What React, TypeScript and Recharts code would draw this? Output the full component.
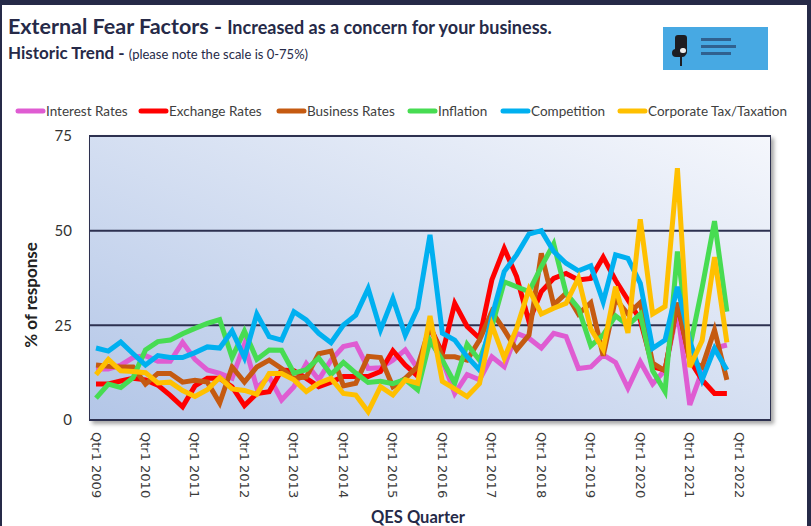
import React from 'react';
import { LineChart, Line, XAxis, YAxis, CartesianGrid } from 'recharts';

// ---- categories (quarters) ----
const years = [2009, 2010, 2011, 2012, 2013, 2014, 2015, 2016, 2017, 2018, 2019, 2020, 2021, 2022];
const quarterNames = ['Qtr1', 'Qtr2', 'Qtr3', 'Qtr4'];
const quarters: string[] = [];
years.forEach((y) => quarterNames.forEach((q) => quarters.push(`${q} ${y}`)));
const categories = quarters.slice(0, 55);

// ---- series values (% of response), Qtr1 2009 .. Qtr4 2021 ----
const interestRates = [13.5, 13.5, 14.5, 16.5, 17, 15.5, 15.5, 20.5, 16, 13.2, 12.3, 11, 20, 8.5,
  11.4, 5.3, 8.8, 14.9, 10.6, 15.8, 19.4, 20.1, 13.6, 13.8, 15.8, 18.5, 13.6,
  21, 15.8, 7, 12, 10.6, 16.7, 14.1, 22.9, 21.6, 19, 22.9, 22, 13.6, 14, 17.2, 15.2, 8.4, 15.4, 9.5, 13.2, 29, 4, 13, 19, 19.8];
const exchangeRates = [9.5, 9.5, 10.3, 11, 10.6, 9.2, 6.5, 3.5, 9, 11, 11, 8.8, 3.8,
  7, 7.5, 13.2, 13, 11, 8.8, 10, 11.5, 11.5, 11.5, 12.8, 18.3, 14.5, 11.6,
  24.7, 17.6, 30.8, 24.7, 21.6, 37, 45.3, 37.9, 26, 33.9, 37.4, 38.7, 37, 37.4, 43, 36.9, 31.7, 26.4, 14.1, 13.2, 30.8, 15.8, 10.6, 7, 7];
const businessRates = [14.5, 14.2, 14, 14, 9.5, 12.3, 12.3, 10, 10.5, 10, 4.5, 14, 10, 14,
  15.8, 13.6, 11, 11.4, 17.5, 18.2, 9, 9.7, 16.8, 16.5, 8.8, 11, 14.1,
  24.7, 16.7, 16.7, 15.8, 21.1, 28.6, 23.8, 18.5, 22.4, 44, 30.4, 33.5, 28, 31, 17, 32, 28, 31, 15, 13, 31, 15.8, 14, 23.8, 10.6];
const inflation = [5.8, 9.5, 8.6, 11.2, 18.5, 20.7, 21.1, 22.8, 24.2, 25.5, 26.5, 16.5, 23.5, 16,
  18.5, 18.4, 12.4, 13.3, 16.4, 12, 15.2, 12.4, 9.9, 10.2, 9.6, 10.7, 8,
  21, 15.8, 9.7, 20, 15.8, 24.6, 36.5, 35.2, 33.9, 40.5, 46.5, 33.5, 29.5, 19.6, 22.5, 27.5, 25, 28, 13, 7.5, 44.5, 19, 35, 52.5, 28.6];
const competition = [19, 18.2, 20.6, 17.5, 14.5, 17, 16.5, 16.5, 17.8, 19.3, 19, 23.5, 16.5, 28,
  22, 21.1, 28.6, 26.4, 22.9, 20.4, 25.1, 27.7, 34.7, 23.8, 32.1, 22.4, 29.5,
  48.9, 22.9, 21.1, 16.7, 13.2, 27.3, 39.2, 43.6, 49.1, 50, 44.5, 41.4, 39.4, 40.7, 31.2, 43.6, 42.7, 36.1, 18.9, 21.1, 35.2, 21, 10.6, 18.9, 13.2];
const corporateTax = [12, 16, 13, 12.8, 12.5, 9.8, 10, 7.8, 6.2, 8, 11.2, 8.2, 7.8, 6.8,
  12.3, 12.3, 10.6, 7.5, 9.7, 11, 7, 6.6, 2.2, 8.8, 6.6, 10.6, 9.7,
  27.5, 10.2, 8.2, 6.2, 9.6, 25.1, 16.3, 24.2, 34.5, 28, 29.5, 30.8, 37.5, 24, 18.7, 35.2, 23, 53, 28, 30, 66.5, 14, 21, 43, 20.5];

const yTicks = [0, 25, 50, 75];

const seriesDefs = [
  { key: 'interest', name: 'Interest Rates', values: interestRates, color: '#DF5CD2' },
  { key: 'exchange', name: 'Exchange Rates', values: exchangeRates, color: '#FF0000' },
  { key: 'business', name: 'Business Rates', values: businessRates, color: '#C55A11' },
  { key: 'inflation', name: 'Inflation', values: inflation, color: '#47DC52' },
  { key: 'competition', name: 'Competition', values: competition, color: '#00B0F0' },
  { key: 'tax', name: 'Corporate Tax/Taxation', values: corporateTax, color: '#FFC000' },
];

const tableData = categories.map((q, i) => {
  const row: Record<string, any> = { quarter: q };
  seriesDefs.forEach((s) => {
    row[s.key] = i < s.values.length ? s.values[i] : null;
  });
  return row;
});

// legend layout (icon start x for each item)
const legendX = [18, 141, 279, 410, 503, 620];

const NAVY = '#262A48';
const GRID = '#2D3150';

const QuarterTick = (props: any) => {
  const { x, y, payload } = props;
  if (!String(payload.value).startsWith('Qtr1')) return <g />;
  return (
    <text
      x={0}
      y={0}
      transform={`translate(${x},${y}) rotate(90)`}
      textAnchor="start"
      dominantBaseline="central"
      fontSize={13}
      fontFamily="DejaVu Sans"
      fill="#3a3a3a"
    >
      {payload.value}
    </text>
  );
};

export default function App() {
  return (
    <div style={{ position: 'fixed', left: 0, top: 0, width: 811, height: 526, background: '#fff', overflow: 'hidden' }}>
      {/* frame */}
      <div style={{ position: 'absolute', left: 0, top: 0, width: 811, height: 5, background: NAVY }} />
      <div style={{ position: 'absolute', left: 0, top: 0, width: 2, height: 526, background: NAVY }} />
      <div style={{ position: 'absolute', left: 807, top: 0, width: 4, height: 526, background: NAVY }} />

      {/* logo */}
      <div style={{ position: 'absolute', left: 663, top: 27, width: 105, height: 43, background: '#47A9E3' }}>
        <div style={{ position: 'absolute', left: 12, top: 8, width: 12, height: 20, background: '#1d1d22', borderRadius: 3 }} />
        <div style={{ position: 'absolute', left: 9, top: 22, width: 14, height: 8, background: '#1d1d22', borderRadius: 4 }} />
        <div style={{ position: 'absolute', left: 17, top: 21, width: 6, height: 5, background: '#eee', borderRadius: 3 }} />
        <div style={{ position: 'absolute', left: 17, top: 30, width: 2, height: 9, background: '#1d1d22' }} />
        <div style={{ position: 'absolute', left: 38, top: 11, width: 30, height: 3, background: '#26436b', opacity: 0.7 }} />
        <div style={{ position: 'absolute', left: 38, top: 18, width: 35, height: 3, background: '#26436b', opacity: 0.7 }} />
        <div style={{ position: 'absolute', left: 38, top: 25, width: 30, height: 3, background: '#26436b', opacity: 0.7 }} />
      </div>

      {/* plot border + shadow */}
      <div
        style={{
          position: 'absolute',
          left: 89,
          top: 135,
          width: 682,
          height: 286,
          boxSizing: 'border-box',
          border: `2.5px solid ${GRID}`,
          boxShadow: '3px 3px 4px rgba(0,0,0,0.35)',
          pointerEvents: 'none',
        }}
      />

      <div style={{ position: 'absolute', left: 0, top: 0 }}>
        <LineChart
          width={811}
          height={526}
          data={tableData}
          margin={{ top: 136, right: 41, left: 30, bottom: 16 }}
        >
          <defs>
            <linearGradient id="plotBg" x1="0" y1="1" x2="1" y2="0">
              <stop offset="0%" stopColor="#B3C6E7" />
              <stop offset="100%" stopColor="#F5F7FC" />
            </linearGradient>
          </defs>
          <CartesianGrid
            vertical={false}
            stroke={GRID}
            strokeWidth={2}
            fill="url(#plotBg)"
            fillOpacity={1}
          />
          <XAxis
            dataKey="quarter"
            interval={0}
            axisLine={false}
            tickLine={false}
            tickSize={0}
            tickMargin={12}
            height={90}
            padding={{ left: 6, right: 6 }}
            tick={<QuarterTick />}
          />
          <YAxis
            domain={[0, 75]}
            ticks={yTicks}
            axisLine={false}
            tickLine={false}
            tickSize={0}
            tickMargin={18}
            width={60}
            tick={{ fill: '#333', fontSize: 15, fontFamily: 'Lato' }}
          />
          {seriesDefs.map((s) => (
            <Line
              key={s.key}
              dataKey={s.key}
              name={s.name}
              stroke={s.color}
              strokeWidth={5}
              strokeLinejoin="miter"
              dot={false}
              activeDot={false}
              isAnimationActive={false}
              connectNulls={false}
              type="linear"
            />
          ))}
        </LineChart>
      </div>

      {/* texts */}
      <svg width={811} height={526} style={{ position: 'absolute', left: 0, top: 0, pointerEvents: 'none' }}>
        <text x={8} y={34} fontFamily="Lato" fontWeight={700} fill={NAVY}>
          <tspan fontSize={21.5}>External Fear Factors - </tspan>
          <tspan fontSize={18}>Increased as a concern for your business.</tspan>
        </text>
        <text x={8} y={59} fontFamily="Lato" fill={NAVY}>
          <tspan fontSize={17} fontWeight={700}>Historic Trend - </tspan>
          <tspan fontSize={13}>(please note the scale is 0-75%)</tspan>
        </text>

        {seriesDefs.map((s, i) => (
          <g key={s.key}>
            <line x1={legendX[i]} x2={legendX[i] + 25} y1={111} y2={111} stroke={s.color} strokeWidth={5} strokeLinecap="round" />
            <text x={legendX[i] + 28} y={116} fontFamily="Lato" fontSize={13.5} fill="#404040">{s.name}</text>
          </g>
        ))}

        <text transform="translate(37,295) rotate(-90)" textAnchor="middle" fontFamily="Lato" fontWeight={700} fontSize={17} fill="#222">
          % of response
        </text>
        <text x={418} y={523} textAnchor="middle" fontFamily="Lato" fontWeight={700} fontSize={16.5} fill={NAVY}>
          QES Quarter
        </text>
      </svg>
    </div>
  );
}
